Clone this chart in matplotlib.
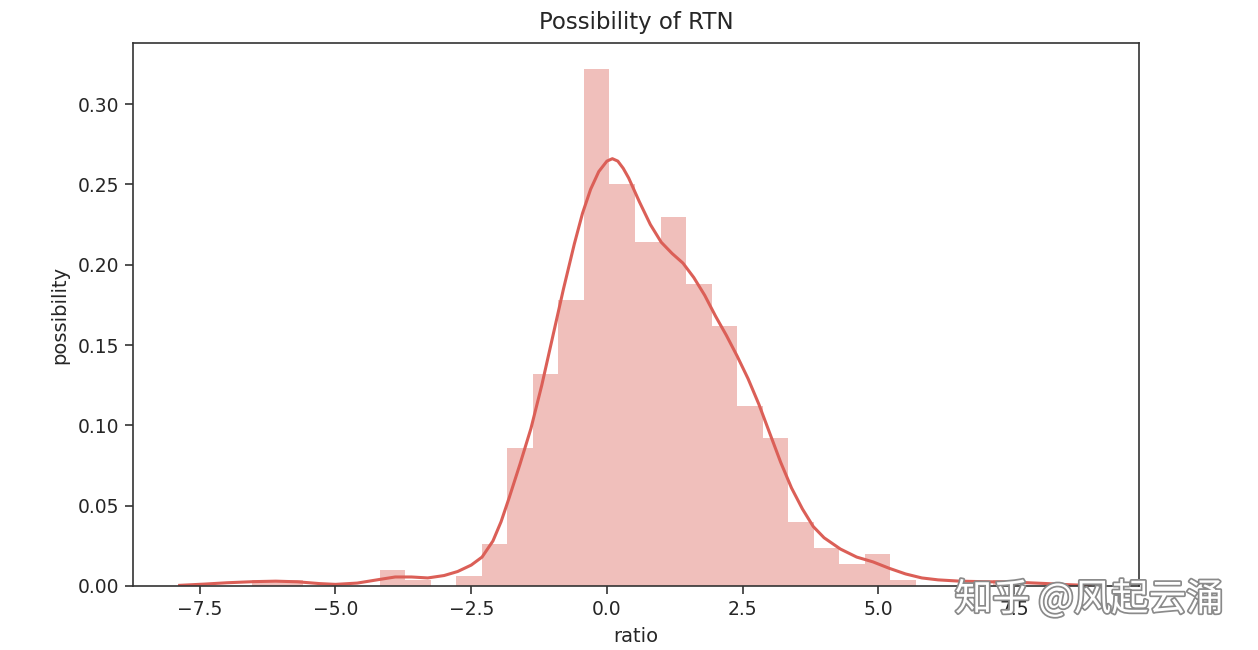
import matplotlib
matplotlib.use("Agg")
import matplotlib.pyplot as plt
import matplotlib.patheffects as pe
import numpy as np

# Histogram (density)
bin_start = -6.54
bin_width = 0.4705
bar_heights = [0.0035, 0.0035, 0.0, 0.0, 0.0, 0.0100, 0.0035, 0.0,
               0.0062, 0.026, 0.0857, 0.132, 0.178, 0.322, 0.250, 0.214,
               0.230, 0.188, 0.162, 0.112, 0.092, 0.040, 0.0235, 0.0137,
               0.0199, 0.0035, 0.0, 0.0, 0.0, 0.0035]

# KDE curve points
kde_x = [-7.87, -7.4, -7.0, -6.5, -6.1, -5.7, -5.3, -5.0, -4.6, -4.2, -3.9,
         -3.6, -3.3, -3.0, -2.75, -2.5, -2.3, -2.1, -1.95, -1.8, -1.6, -1.4,
         -1.2, -1.0, -0.8, -0.6, -0.45, -0.3, -0.15, 0.0, 0.1, 0.2, 0.3,
         0.4, 0.6, 0.8, 1.0, 1.2, 1.4, 1.6, 1.8, 2.0, 2.2, 2.4, 2.6, 2.8,
         3.0, 3.2, 3.4, 3.6, 3.8, 4.0, 4.3, 4.6, 4.9, 5.2, 5.5, 5.8, 6.1,
         6.5, 6.9, 7.3, 7.7, 8.1, 8.5, 8.9]
kde_y = [0.0004, 0.0012, 0.0020, 0.0027, 0.0030, 0.0026, 0.0015, 0.0010,
         0.0018, 0.0040, 0.0056, 0.0056, 0.0050, 0.0065, 0.009, 0.013,
         0.018, 0.028, 0.040, 0.055, 0.076, 0.098, 0.125, 0.155, 0.185,
         0.213, 0.232, 0.247, 0.258, 0.2645, 0.2660, 0.2645, 0.260, 0.254,
         0.239, 0.225, 0.214, 0.207, 0.201, 0.192, 0.181, 0.168, 0.156,
         0.143, 0.129, 0.113, 0.095, 0.077, 0.061, 0.048, 0.037, 0.030,
         0.023, 0.018, 0.015, 0.011, 0.0075, 0.005, 0.0038, 0.0030, 0.0027,
         0.0025, 0.0021, 0.0015, 0.0008, 0.0003]

x_ticks = [-7.5, -5.0, -2.5, 0.0, 2.5, 5.0, 7.5]
y_ticks = [0.00, 0.05, 0.10, 0.15, 0.20, 0.25, 0.30]

color = "#db5f57"
text_color = "#262626"

fig = plt.figure(figsize=(12.58, 6.5), dpi=100)
ax = fig.add_axes([0.1057, 0.0985, 0.7997, 0.8353])

edges = bin_start + bin_width * np.arange(len(bar_heights))
ax.bar(edges, bar_heights, width=bin_width, align="edge", color=color,
       alpha=0.4, linewidth=0)
ax.plot(kde_x, kde_y, color=color, lw=2.2, solid_joinstyle="round")

ax.set_xlim(-8.73, 9.80)
ax.set_ylim(0, 0.338)
ax.set_xticks(x_ticks)
ax.set_xticklabels([f"{t:.1f}".replace("-", "\u2212") for t in x_ticks])
ax.set_yticks(y_ticks)
ax.set_yticklabels([f"{t:.2f}" for t in y_ticks])
ax.tick_params(labelsize=13.5, length=6, width=1.2, color="#333333",
               labelcolor=text_color, pad=4)
for s in ax.spines.values():
    s.set_color("#333333")
    s.set_linewidth(1.2)

ax.set_title("Possibility of RTN", fontsize=16.5, color=text_color, pad=10)
ax.set_xlabel("ratio", fontsize=14, color=text_color, labelpad=6)
ax.set_ylabel("possibility", fontsize=14, color=text_color, labelpad=6)

fig.text(0.759, 0.077, "知乎 @风起云涌", fontsize=27,
         family=["Noto Sans CJK SC", "DejaVu Sans"], color="white",
         va="center", ha="left",
         path_effects=[pe.withStroke(linewidth=2.5, foreground="#8a8a8a")])

fig.savefig("out.png", dpi=100)
